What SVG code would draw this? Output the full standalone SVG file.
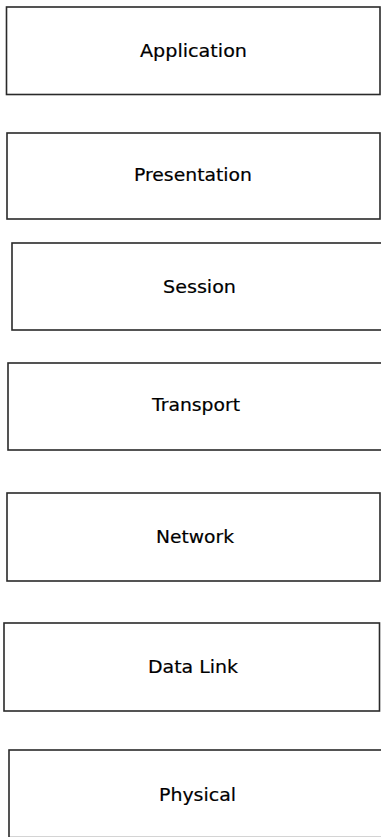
<svg xmlns="http://www.w3.org/2000/svg" width="381" height="837" viewBox="0 0 381 837">
<style>
.box{fill:#fff;stroke:#2a2a2a;stroke-width:1.6}
.lbl{font-family:"DejaVu Sans","Liberation Sans",sans-serif;font-size:18px;fill:#000;stroke:#000;stroke-width:0.2}
</style>
<rect width="381" height="837" fill="#fff"/>
<g id="application"><rect class="box" x="6.5" y="7" width="373.5" height="87.5"/><text class="lbl" x="140" y="57" textLength="107" lengthAdjust="spacingAndGlyphs">Application</text></g>
<g id="presentation"><rect class="box" x="7" y="133" width="373" height="86"/><text class="lbl" x="134" y="181" textLength="118" lengthAdjust="spacingAndGlyphs">Presentation</text></g>
<g id="session"><rect class="box" x="12" y="243" width="385" height="87"/><text class="lbl" x="163" y="293" textLength="73" lengthAdjust="spacingAndGlyphs">Session</text></g>
<g id="transport"><rect class="box" x="8" y="363" width="385" height="87"/><text class="lbl" x="152" y="411" textLength="88" lengthAdjust="spacingAndGlyphs">Transport</text></g>
<g id="network"><rect class="box" x="7" y="493" width="373" height="88"/><text class="lbl" x="156" y="543" textLength="78" lengthAdjust="spacingAndGlyphs">Network</text></g>
<g id="datalink"><rect class="box" x="4" y="623" width="375.5" height="88"/><text class="lbl" x="148" y="673" textLength="90" lengthAdjust="spacingAndGlyphs">Data Link</text></g>
<g id="physical"><rect class="box" x="9" y="750" width="385" height="87.6"/><text class="lbl" x="159" y="801" textLength="77" lengthAdjust="spacingAndGlyphs">Physical</text></g>
<g id="connectors"></g>
</svg>
